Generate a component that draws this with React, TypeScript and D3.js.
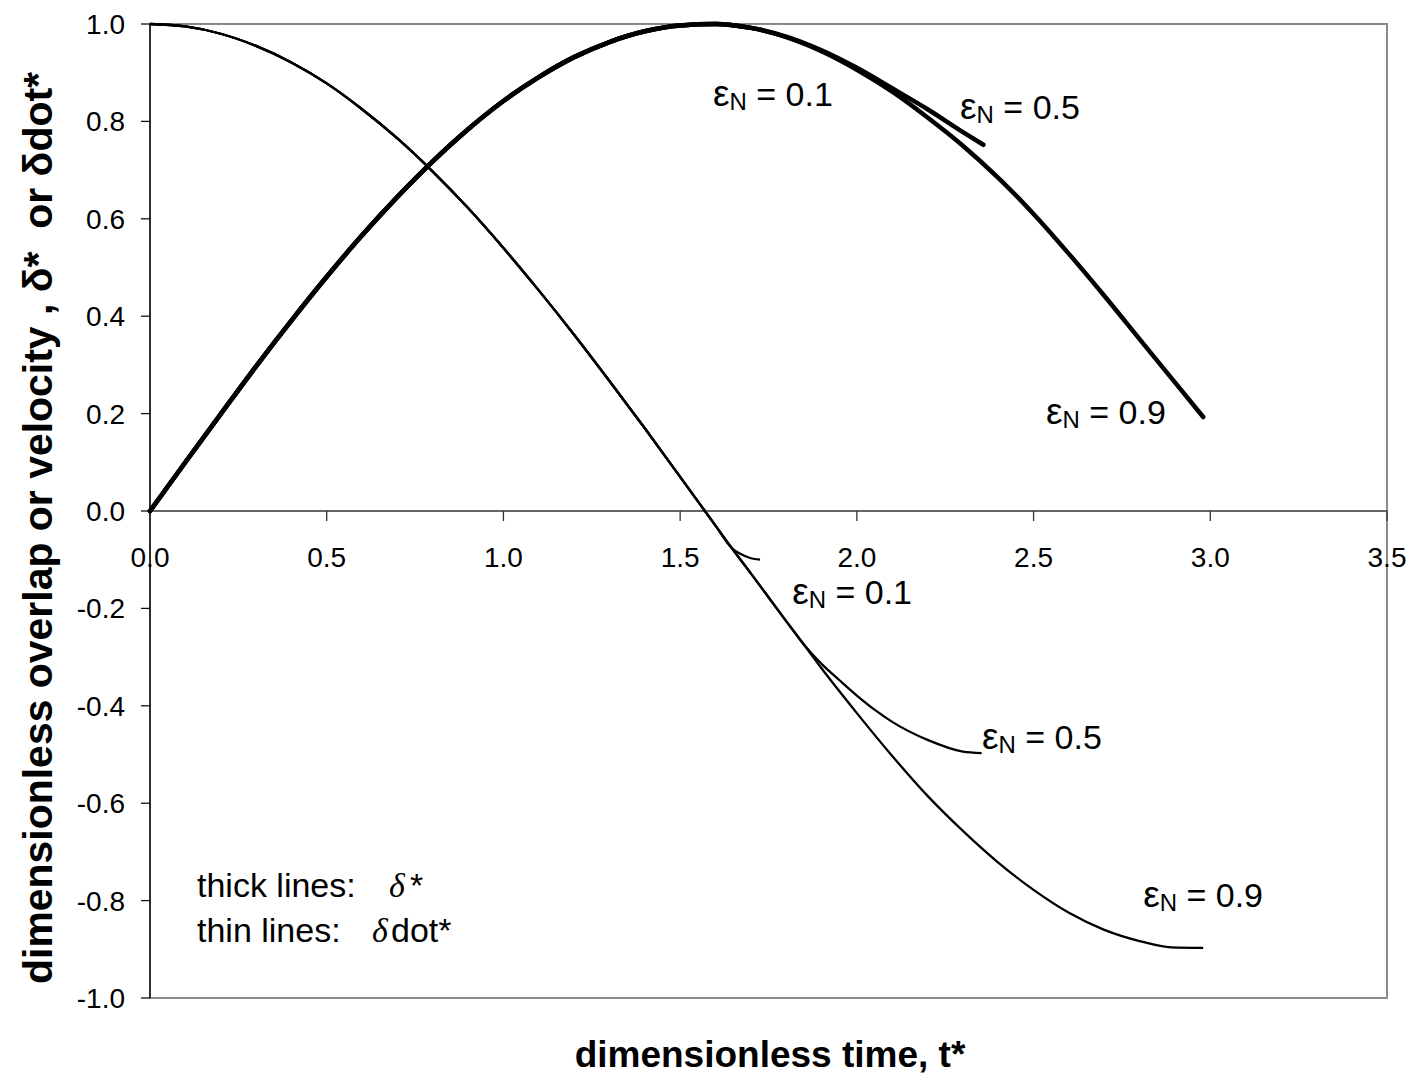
import React from "react";
import * as d3 from "d3";

// Dimensionless time t* vs overlap δ* (thick) and velocity δdot* (thin)
type Pt = [number, number];

// Overlap δ*: common rise shared by all three restitution coefficients
const deltaRise: Pt[] = [
  [0, 0], [0.1, 0.1], [0.2, 0.199], [0.3, 0.297], [0.4, 0.391], [0.5, 0.481],
  [0.6, 0.566], [0.7, 0.645], [0.8, 0.718], [0.9, 0.784], [1.0, 0.842],
  [1.1, 0.891], [1.2, 0.932], [1.3, 0.963], [1.4, 0.985], [1.5, 0.997],
  [1.6, 1.0], [1.7, 0.992],
];
const deltaTail01: Pt[] = [[1.73, 0.988]];
const deltaTail05: Pt[] = [
  [1.8, 0.974], [1.9, 0.946], [2.0, 0.91], [2.1, 0.868], [2.2, 0.825],
  [2.3, 0.778], [2.358, 0.752],
];
const deltaTail09: Pt[] = [
  [1.8, 0.973], [1.9, 0.944], [2.0, 0.906], [2.1, 0.861], [2.2, 0.808],
  [2.3, 0.75], [2.4, 0.684], [2.5, 0.61], [2.6, 0.528], [2.7, 0.442],
  [2.8, 0.353], [2.9, 0.264], [2.98, 0.193],
];

// Velocity δdot*: common descent
const dotFall: Pt[] = [
  [0, 1.0], [0.1, 0.995], [0.2, 0.98], [0.3, 0.955], [0.4, 0.921], [0.5, 0.878],
  [0.6, 0.825], [0.7, 0.765], [0.8, 0.697], [0.9, 0.622], [1.0, 0.54],
  [1.1, 0.453], [1.2, 0.362], [1.3, 0.267], [1.4, 0.17], [1.5, 0.07],
  [1.6, -0.03], [1.646, -0.076],
];
const dotTail01: Pt[] = [[1.67, -0.088], [1.7, -0.097], [1.726, -0.1]];
const dotMid: Pt[] = [[1.7, -0.128], [1.8, -0.226], [1.85, -0.274]];
const dotTail05: Pt[] = [
  [1.9, -0.314], [1.95, -0.347], [2.0, -0.379], [2.05, -0.408], [2.1, -0.433],
  [2.2, -0.47], [2.3, -0.494], [2.353, -0.497],
];
const dotTail09: Pt[] = [
  [1.9, -0.323], [2.0, -0.415], [2.1, -0.503], [2.2, -0.585], [2.3, -0.657],
  [2.4, -0.722], [2.5, -0.778], [2.6, -0.825], [2.7, -0.86], [2.8, -0.883],
  [2.89, -0.896], [2.98, -0.897],
];

const delta01 = [...deltaRise, ...deltaTail01];
const delta05 = [...deltaRise, ...deltaTail05];
const delta09 = [...deltaRise, ...deltaTail09];
const dot01 = [...dotFall, ...dotTail01];
const dot05 = [...dotFall, ...dotMid, ...dotTail05];
const dot09 = [...dotFall, ...dotMid, ...dotTail09];

const xTicks = [0, 0.5, 1.0, 1.5, 2.0, 2.5, 3.0, 3.5];
const yTicks = [-1.0, -0.8, -0.6, -0.4, -0.2, 0, 0.2, 0.4, 0.6, 0.8, 1.0];

// Restitution labels anchored in data coordinates
const labelValues = ["0.1", "0.5", "0.9", "0.1", "0.5", "0.9"];
const labelT = [1.593, 2.292, 2.535, 1.817, 2.354, 2.81];
const labelV = [0.831, 0.804, 0.178, -0.19, -0.488, -0.814];

const FONT = "'Liberation Sans', Arial, sans-serif";
const fmt = (v: number) => d3.format(".1f")(v).replace("\u2212", "-");

export default function App() {
  const W = 1410;
  const H = 1078;
  const left = 150, right = 1387, top = 24, bottom = 998;
  const x = d3.scaleLinear().domain([0, 3.5]).range([left, right]);
  const y = d3.scaleLinear().domain([-1, 1]).range([bottom, top]);
  const line = d3
    .line<Pt>()
    .x((d) => x(d[0]))
    .y((d) => y(d[1]))
    .curve(d3.curveMonotoneX);

  const thick = [delta01, delta05, delta09];
  const thin = [dot01, dot05, dot09];

  return (
    <svg
      width={W}
      height={H}
      style={{ position: "absolute", left: 0, top: 0, background: "#fff" }}
      fontFamily={FONT}
    >
      <rect x={0} y={0} width={W} height={H} fill="#fff" />
      {/* plot frame */}
      <rect
        x={left}
        y={top}
        width={right - left}
        height={bottom - top}
        fill="none"
        stroke="#8a8a8a"
        strokeWidth={2}
      />
      {/* y axis */}
      <line x1={left} x2={left} y1={top} y2={bottom} stroke="#111" strokeWidth={1.5} />
      {yTicks.map((v) => (
        <g key={"y" + v}>
          <line x1={left - 9} x2={left} y1={y(v)} y2={y(v)} stroke="#111" strokeWidth={1.3} />
          <text
            x={125}
            y={y(v)}
            dy="0.36em"
            textAnchor="end"
            fontSize={28}
            fill="#000"
          >
            {fmt(v)}
          </text>
        </g>
      ))}
      {/* x axis at zero */}
      <line x1={left} x2={right} y1={y(0)} y2={y(0)} stroke="#333" strokeWidth={1.3} />
      {xTicks.map((t) => (
        <g key={"x" + t}>
          <line x1={x(t)} x2={x(t)} y1={y(0)} y2={y(0) + 10} stroke="#333" strokeWidth={1.3} />
          <text x={x(t)} y={567} textAnchor="middle" fontSize={28} fill="#000">
            {fmt(t)}
          </text>
        </g>
      ))}

      {/* velocity curves (thin) */}
      {thin.map((s, i) => (
        <path key={"thin" + i} d={line(s) || ""} fill="none" stroke="#000" strokeWidth={2.3} />
      ))}
      {/* overlap curves (thick) */}
      {thick.map((s, i) => (
        <path
          key={"thick" + i}
          d={line(s) || ""}
          fill="none"
          stroke="#000"
          strokeWidth={4.5}
          strokeLinecap="round"
        />
      ))}

      {/* restitution labels */}
      {labelValues.map((val, i) => (
        <text key={"lab" + i} x={x(labelT[i])} y={y(labelV[i])} fill="#000">
          <tspan fontSize={37}>ε</tspan>
          <tspan fontSize={24} dy={4}>N</tspan>
          <tspan fontSize={34} dy={-4}>{"\u00A0= " + val}</tspan>
        </text>
      ))}

      {/* legend */}
      <text x={197} y={897} fontSize={34} fill="#000">
        thick lines:
        <tspan x={389} fontFamily="'Liberation Serif', 'Times New Roman', serif" fontStyle="italic">
          δ
        </tspan>
        <tspan x={410}>*</tspan>
      </text>
      <text x={197} y={942} fontSize={34} fill="#000">
        thin lines:
        <tspan x={372} fontFamily="'Liberation Serif', 'Times New Roman', serif" fontStyle="italic">
          δ
        </tspan>
        <tspan x={391}>dot*</tspan>
      </text>

      {/* axis titles */}
      <text
        x={770}
        y={1067}
        textAnchor="middle"
        fontSize={37}
        fontWeight="bold"
        fill="#000"
      >
        dimensionless time, t*
      </text>
      <text
        transform="translate(52,528) rotate(-90)"
        textAnchor="middle"
        fontSize={40}
        fontWeight="bold"
        fill="#000"
        textLength={912}
        lengthAdjust="spacingAndGlyphs"
        style={{ whiteSpace: "pre" }}
      >
        {"dimensionless overlap or velocity , δ*  or δdot*"}
      </text>
    </svg>
  );
}
